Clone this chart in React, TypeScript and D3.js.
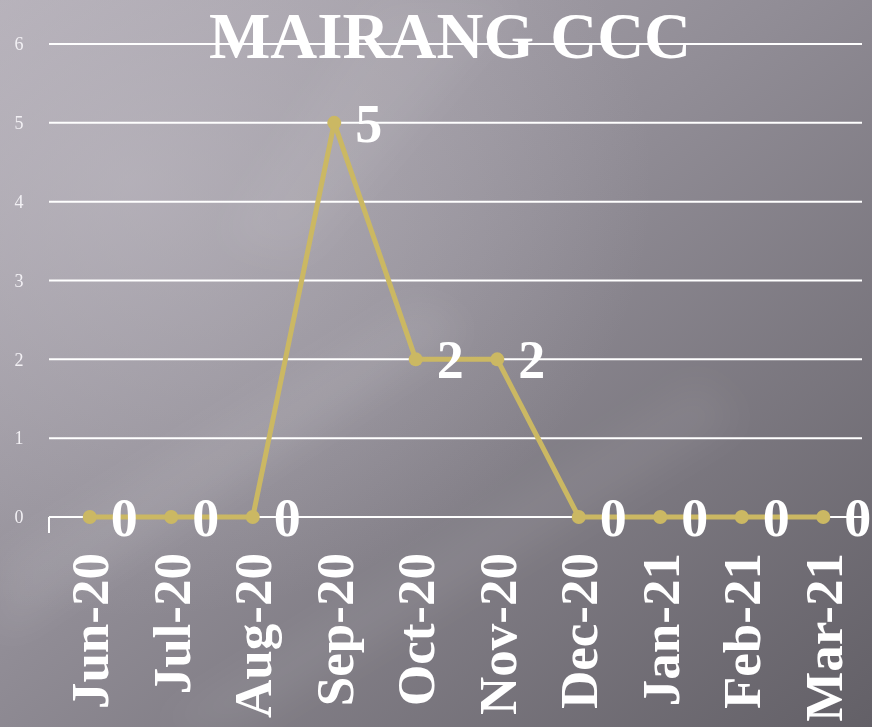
import React from 'react'
import * as d3 from 'd3'

const months = ['Jun-20', 'Jul-20', 'Aug-20', 'Sep-20', 'Oct-20', 'Nov-20', 'Dec-20', 'Jan-21', 'Feb-21', 'Mar-21']
const counts = [0, 0, 0, 5, 2, 2, 0, 0, 0, 0]
const yTicks = [0, 1, 2, 3, 4, 5, 6]
const title = 'MAIRANG CCC'

const width = 872
const height = 727
const serif = '"Palatino Linotype", "Book Antiqua", Palatino, "Liberation Serif", serif'

const App = () => {
  const x = d3.scaleBand<string>().domain(months).range([49, 864])
  const y = d3.scaleLinear().domain([0, 6]).range([517, 44])
  const cx = (m: string) => (x(m) ?? 0) + x.bandwidth() / 2

  const line = d3
    .line<number>()
    .x((_, i) => cx(months[i]))
    .y((d) => y(d))

  return (
    <svg
      width={width}
      height={height}
      style={{ position: 'absolute', left: 0, top: 0, display: 'block' }}
    >
      <defs>
        <linearGradient id="bg" x1="0" y1="0" x2="1" y2="1">
          <stop offset="0" stopColor="#b3aeb7" />
          <stop offset="0.45" stopColor="#918d96" />
          <stop offset="1" stopColor="#636067" />
        </linearGradient>
        <radialGradient id="glow" cx="0.15" cy="0.25" r="0.6">
          <stop offset="0" stopColor="#c4c0c8" stopOpacity="0.5" />
          <stop offset="1" stopColor="#c4c0c8" stopOpacity="0" />
        </radialGradient>
        <filter id="blur" x="-20%" y="-20%" width="140%" height="140%">
          <feGaussianBlur stdDeviation="18" />
        </filter>
      </defs>
      <rect width={width} height={height} fill="url(#bg)" />
      <rect width={width} height={height} fill="url(#glow)" />
      <g filter="url(#blur)" fill="#ffffff">
        <polygon points="0,560 420,300 470,330 0,640" opacity={0.08} />
        <polygon points="150,727 700,380 740,420 240,727" opacity={0.06} />
        <polygon points="380,0 520,0 300,260 220,240" opacity={0.06} />
      </g>

      {yTicks.map((t) => (
        <g key={t}>
          <line x1={49} x2={862} y1={y(t)} y2={y(t)} stroke="#ffffff" strokeWidth={2} />
          <text
            x={19}
            y={y(t)}
            dy="0.35em"
            textAnchor="middle"
            fontFamily={serif}
            fontSize={18}
            fill="#f2f0f4"
          >
            {t}
          </text>
        </g>
      ))}
      <line x1={49} x2={49} y1={517} y2={533} stroke="#ffffff" strokeWidth={2} />

      <text
        x={450}
        y={58}
        textAnchor="middle"
        fontFamily={serif}
        fontWeight="bold"
        fontSize={65}
        fill="#ffffff"
      >
        {title}
      </text>

      <path d={line(counts) ?? ''} fill="none" stroke="#cbb863" strokeWidth={5} strokeLinejoin="round" />
      {counts.map((v, i) => (
        <circle key={i} cx={cx(months[i])} cy={y(v)} r={7} fill="#cbb863" />
      ))}
      {counts.map((v, i) => (
        <text
          key={i}
          x={cx(months[i]) + 21}
          y={y(v)}
          dy="0.35em"
          fontFamily={serif}
          fontWeight="bold"
          fontSize={54}
          fill="#ffffff"
        >
          {v}
        </text>
      ))}

      {months.map((m) => (
        <text
          key={m}
          transform={`translate(${cx(m)},553) rotate(-90)`}
          dy="0.35em"
          textAnchor="end"
          fontFamily={serif}
          fontWeight="bold"
          fontSize={53}
          fill="#ffffff"
        >
          {m}
        </text>
      ))}
    </svg>
  )
}

export default App
